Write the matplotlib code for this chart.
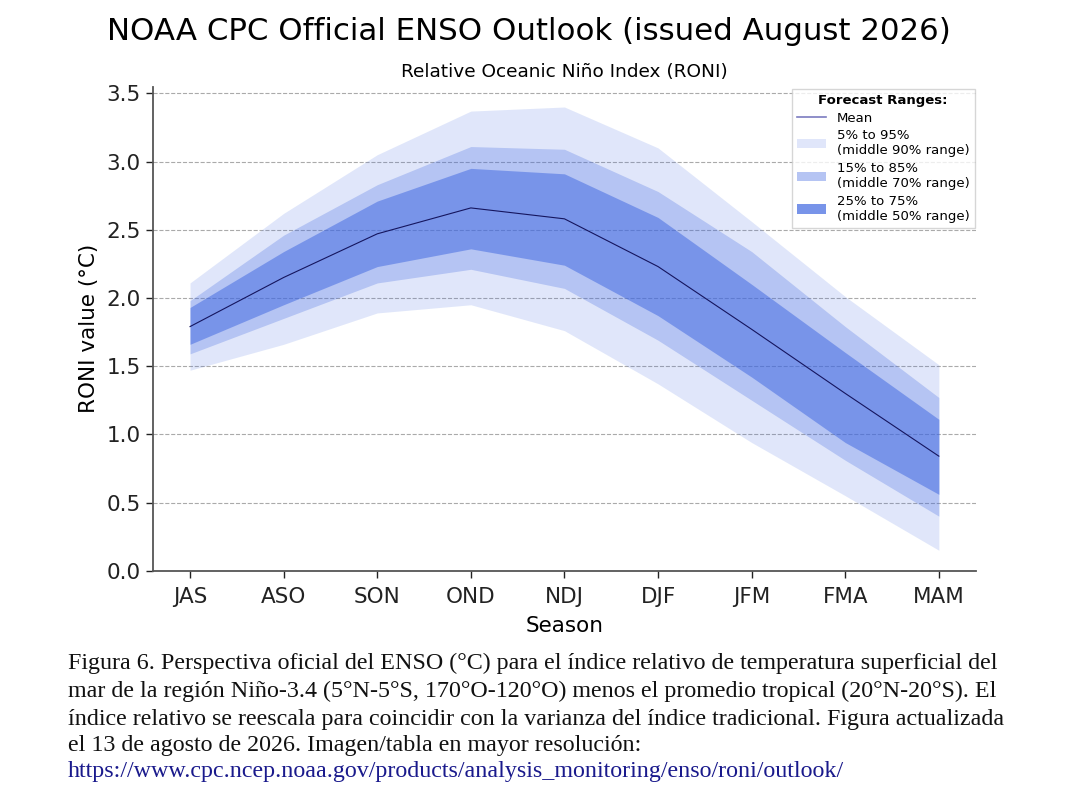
import matplotlib
matplotlib.use("Agg")
import matplotlib.pyplot as plt
from matplotlib.lines import Line2D
from matplotlib.patches import Patch

seasons = ["JAS", "ASO", "SON", "OND", "NDJ", "DJF", "JFM", "FMA", "MAM"]
mean = [1.79, 2.15, 2.47, 2.66, 2.58, 2.23, 1.77, 1.30, 0.84]
p05 = [1.47, 1.66, 1.89, 1.95, 1.76, 1.37, 0.94, 0.55, 0.15]
p95 = [2.11, 2.62, 3.05, 3.37, 3.40, 3.10, 2.56, 2.01, 1.51]
p15 = [1.59, 1.85, 2.11, 2.21, 2.07, 1.69, 1.25, 0.81, 0.40]
p85 = [1.98, 2.46, 2.83, 3.11, 3.09, 2.78, 2.34, 1.79, 1.27]
p25 = [1.66, 1.95, 2.23, 2.36, 2.24, 1.87, 1.42, 0.94, 0.56]
p75 = [1.93, 2.34, 2.71, 2.95, 2.91, 2.59, 2.10, 1.60, 1.11]
yticks = [0.0, 0.5, 1.0, 1.5, 2.0, 2.5, 3.0, 3.5]

caption_lines = [
    "Figura 6. Perspectiva oficial del ENSO (°C) para el índice relativo de temperatura superficial del",
    "mar de la región Niño-3.4 (5°N-5°S, 170°O-120°O) menos el promedio tropical (20°N-20°S). El",
    "índice relativo se reescala para coincidir con la varianza del índice tradicional. Figura actualizada",
    "el 13 de agosto de 2026. Imagen/tabla en mayor resolución:",
]
link = "https://www.cpc.ncep.noaa.gov/products/analysis_monitoring/enso/roni/outlook/"

fig = plt.figure(figsize=(10.67, 7.99), dpi=100)
ax = fig.add_axes([0.143, 0.2857, 0.772, 0.606])

x = list(range(len(seasons)))
base = "royalblue"
ax.fill_between(x, p05, p95, color=base, alpha=0.16, lw=0, zorder=2)
ax.fill_between(x, p15, p85, color=base, alpha=0.27, lw=0, zorder=3)
ax.fill_between(x, p25, p75, color=base, alpha=0.52, lw=0, zorder=4)
ax.plot(x, mean, color="#15155e", lw=0.8, zorder=5)

ax.set_xlim(-0.4, 8.4)
ax.set_ylim(0, 3.55)
ax.set_xticks(x)
ax.set_xticklabels(seasons, fontsize=15.5)
ax.set_yticks(yticks)
ax.set_yticklabels([f"{v:.1f}" for v in yticks], fontsize=15.5)
ax.yaxis.grid(True, linestyle="--", color="#aaaaaa", lw=0.8, zorder=1)
ax.set_axisbelow(True)
for s in ["top", "right"]:
    ax.spines[s].set_visible(False)
for s in ["left", "bottom"]:
    ax.spines[s].set_color("#555555")
    ax.spines[s].set_linewidth(1.3)
ax.tick_params(colors="#222222", length=5, width=1)
ax.tick_params(axis="x", pad=7)
ax.set_xlabel("Season", fontsize=15.5, labelpad=6)
ax.set_ylabel("RONI value (°C)", fontsize=15.5, labelpad=5)
ax.set_title("Relative Oceanic Niño Index (RONI)", fontsize=13.3, pad=7)

handles = [
    Line2D([0], [0], color="#7b7bc0", lw=1.2),
    Patch(facecolor=base, alpha=0.16, edgecolor="none"),
    Patch(facecolor=base, alpha=0.39, edgecolor="none"),
    Patch(facecolor=base, alpha=0.71, edgecolor="none"),
]
labels = ["Mean", "5% to 95%\n(middle 90% range)", "15% to 85%\n(middle 70% range)",
          "25% to 75%\n(middle 50% range)"]
leg = ax.legend(handles, labels, title="Forecast Ranges:", loc="upper right",
                bbox_to_anchor=(0.998, 0.995), borderaxespad=0, fontsize=9.5,
                title_fontproperties={"weight": "bold", "size": 9.5},
                frameon=True, fancybox=False, labelspacing=0.35, handlelength=2.2)
leg.get_frame().set_edgecolor("#cccccc")

fig.text(0.496, 0.96, "NOAA CPC Official ENSO Outlook (issued August 2026)",
         ha="center", va="center", fontsize=22.2)

ys = [663, 691, 719, 745, 772]
for line, yy in zip(caption_lines, ys[:4]):
    fig.text(0.0637, 1 - yy / 799, line, ha="left", va="center", fontsize=17.3,
             family="Liberation Serif", color="#111111")
fig.text(0.0637, 1 - ys[4] / 799, link, ha="left", va="center", fontsize=17.3,
         family="Liberation Serif", color="#1a1a8c")

fig.savefig("out.png", dpi=100)
